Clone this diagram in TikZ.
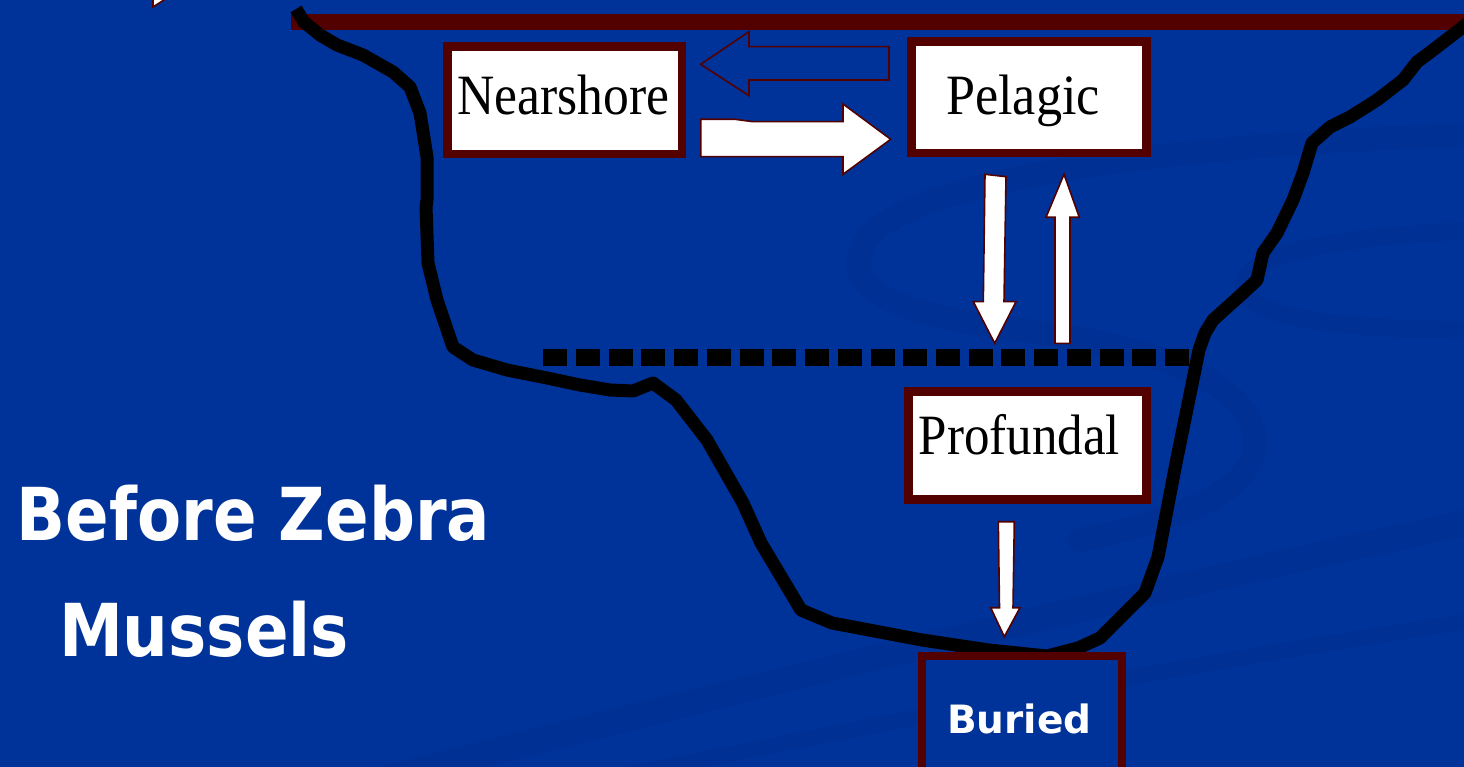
\documentclass[tikz,border=0pt]{standalone}
\usepackage{fontspec}
\usepackage{graphicx}
\newfontfamily\labelserif{Liberation Serif}
\newfontfamily\labelsans{DejaVu Sans}
\definecolor{seablue}{RGB}{0,51,153}
\definecolor{swirlblue}{RGB}{0,44,138}
\definecolor{boxred}{RGB}{82,0,0}
\tikzset{
  zonebox/.style={draw=boxred, line width=8.5, fill=white, inner sep=0, rectangle},
  sinkbox/.style={draw=boxred, line width=8, fill=seablue, inner sep=0, rectangle},
  zonetext/.style={anchor=base, inner sep=0, font=\labelserif\fontsize{57}{60}\selectfont},
  titletext/.style={anchor=base, inner sep=0, text=white, font=\labelsans\bfseries\fontsize{73}{80}\selectfont},
  blockarrow/.style={draw=boxred, line width=1.6, line join=miter, fill=white},
  hollowarrow/.style={draw=boxred, line width=1.6, line join=miter},
  shore/.style={draw=black, line width=13, line join=round},
  swirl/.style={swirlblue, line width=#1, opacity=0.35, line cap=round},
}
\begin{document}
\begin{tikzpicture}[x=1pt,y=-1pt]
\useasboundingbox (0,0) rectangle (1464,767);
\fill[seablue] (0,0) rectangle (1464,767);

% faint swirls of the backdrop
\begin{scope}
\clip (0,0) rectangle (1464,767);
\draw[swirl=24] (1480,135) .. controls (1250,140) and (930,170) .. (870,235)
  .. controls (830,290) and (900,315) .. (1020,330)
  .. controls (1150,345) and (1250,380) .. (1255,440)
  .. controls (1258,490) and (1180,520) .. (1080,540);
\draw[swirl=18] (1480,230) .. controls (1380,235) and (1260,245) .. (1245,280)
  .. controls (1235,310) and (1300,330) .. (1480,330);
\draw[swirl=26] (380,780) .. controls (700,700) and (1100,600) .. (1480,520);
\draw[swirl=16] (600,780) .. controls (900,720) and (1200,660) .. (1480,620);
\end{scope}

% surface line
\fill[boxred] (291,14) rectangle (1464,30);

% fragment of an arrow head at the upper edge
\draw[blockarrow] (153,-2) -- (153,7) -- (167,-2);

% lake basin outline
\draw[shore] (296,9) -- (304,22) -- (320,35) -- (337,45) -- (363,55) -- (393,72)
  -- (410,87) -- (420,113) -- (427,157) -- (427,200) -- (426,207) -- (428,263)
  -- (437,300) -- (453,347) -- (473,360) -- (507,370) -- (547,378) -- (580,385)
  -- (610,390) -- (633,391) -- (653,383) -- (676,400) -- (707,440) -- (743,503)
  -- (761,543) -- (801,610) -- (832,623) -- (922,640) -- (989,650) -- (1047,656)
  -- (1078,648) -- (1100,638) -- (1145,593) -- (1158,557) -- (1176,463)
  -- (1199,350) -- (1205,333) -- (1213,320) -- (1243,293) -- (1257,280)
  -- (1263,253) -- (1277,233) -- (1293,200) -- (1303,173) -- (1312,143)
  -- (1330,127) -- (1350,117) -- (1377,100) -- (1403,80) -- (1417,62)
  -- (1437,47) -- (1472,20);

% thermocline
\draw[black, line width=17, dash pattern=on 24pt off 8.72pt] (543.3,357) -- (1190,357);

% compartments
\node[zonebox, minimum width=234.5, minimum height=107.3] (near) at (564.7,100.3) {};
\node[zonebox, minimum width=235, minimum height=111.5] (pel) at (1029,97.3) {};
\node[zonebox, minimum width=238, minimum height=108] (prof) at (1027.6,445.5) {};
\node[sinkbox, minimum width=199.5, minimum height=200] (bur) at (1021.8,755.5) {};

\node[zonetext] (neartxt) at (563.5,115) {\scalebox{0.905}[1]{Nearshore}};
\node[zonetext] (peltxt) at (1023,115) {\scalebox{0.915}[1]{Pelagic}};
\node[zonetext] (proftxt) at (1019.4,454) {\scalebox{0.895}[1]{Profundal}};
\node[anchor=base, inner sep=0, text=white, font=\labelsans\bfseries\fontsize{39}{44}\selectfont]
  (burtxt) at (1019.3,733.3) {Buried};

% exchanges between compartments
\draw[hollowarrow] (700.7,64.3) -- (749,31.7) -- (749,46.7) -- (889,46.7)
  -- (889,80) -- (749,80) -- (749,95.7) -- cycle;
\draw[blockarrow] (700.7,119.3) -- (735,119.3) -- (753,121.7) -- (843,121.7)
  -- (843,104) -- (890.7,139.3) -- (843,174.3) -- (843,156.7) -- (700.7,156.7) -- cycle;
\draw[blockarrow] (985,174.3) -- (1006,176.7) -- (1004,301.7) -- (1016,301.7)
  -- (994.7,343.3) -- (973.3,301.7) -- (983.3,301.7) -- cycle;
\draw[blockarrow] (1064,174.3) -- (1079.3,217.3) -- (1070,217.3) -- (1070,343.3)
  -- (1055,343.3) -- (1055,217.3) -- (1046,217.3) -- cycle;
\draw[blockarrow] (998.3,521.7) -- (1014.3,521.7) -- (1013,607.7) -- (1020,607.7)
  -- (1004.3,636.7) -- (990.7,607.7) -- (999.5,607.7) -- cycle;

% title
\node[titletext] (t1) at (253.5,540) {\scalebox{0.88}[1]{Before Zebra}};
\node[titletext] (t2) at (204,656.7) {\scalebox{0.88}[1]{Mussels}};
\end{tikzpicture}
\end{document}
